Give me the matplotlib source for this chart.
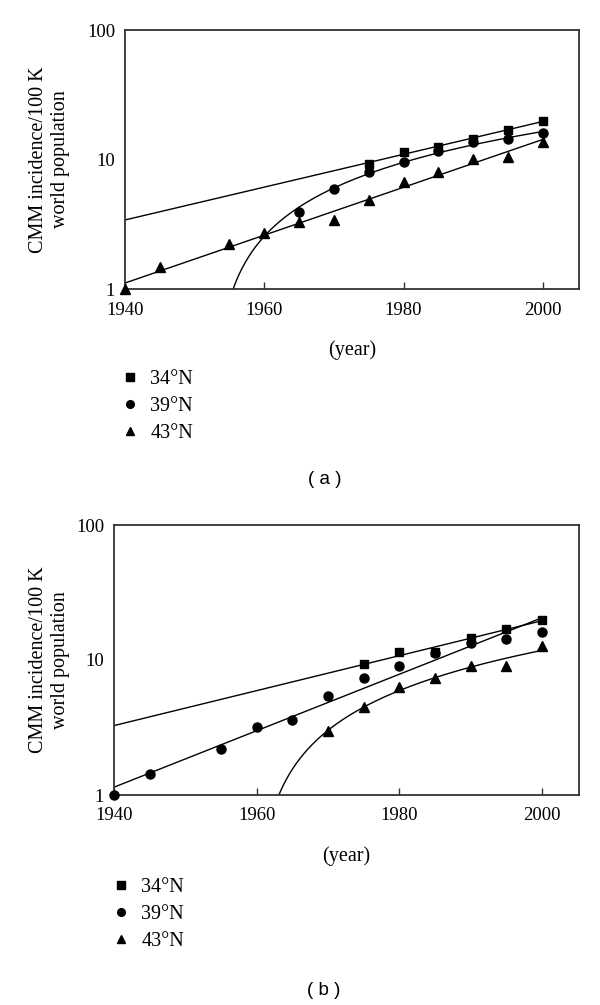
import numpy as np
import matplotlib
matplotlib.use("Agg")
import matplotlib.pyplot as plt
from matplotlib.lines import Line2D
from matplotlib.ticker import FixedLocator, FixedFormatter, NullLocator

# --- DATA ---
LABELS = ["34°N", "39°N", "43°N"]

# panel (a)
YEARS_A_34 = [1975, 1980, 1985, 1990, 1995, 2000]
A_34 = [9.3, 11.5, 12.4, 14.5, 17.0, 19.8]
YEARS_A_39 = [1965, 1970, 1975, 1980, 1985, 1990, 1995, 2000]
A_39 = [3.9, 5.9, 8.0, 9.5, 11.7, 13.7, 14.3, 16.0]
YEARS_A_43 = [1940, 1945, 1955, 1960, 1965, 1970, 1975, 1980, 1985, 1990, 1995, 2000]
A_43 = [1.0, 1.47, 2.22, 2.7, 3.3, 3.4, 4.9, 6.7, 8.0, 10.1, 10.5, 13.7]

# panel (b)
YEARS_B_34 = [1975, 1980, 1985, 1990, 1995, 2000]
B_34 = [9.3, 11.4, 11.5, 14.5, 16.9, 19.9]
YEARS_B_39 = [1940, 1945, 1955, 1960, 1965, 1970, 1975, 1980, 1985, 1990, 1995, 2000]
B_39 = [1.0, 1.42, 2.21, 3.17, 3.59, 5.38, 7.33, 9.0, 11.2, 13.3, 14.4, 16.1]
YEARS_B_43 = [1970, 1975, 1980, 1985, 1990, 1995, 2000]
B_43 = [2.96, 4.46, 6.28, 7.37, 9.0, 9.1, 12.6]

# fit type per series: "exp" = straight on log axis, "lin" = linear regression
FITS_A = ["exp", "lin", "exp"]
FITS_B = ["exp", "exp", "lin"]

X_TICKS = [1940, 1960, 1980, 2000]
Y_TICKS = [1, 10, 100]
Y_TICK_LABELS = ["1", "10", "100"]

# --- STYLE ---
MARKERS = ["s", "o", "^"]
MARKER_SIZES = [6.0, 6.5, 7.0]
SPINE_COLOR = "#333333"
TICK_SIZE = 13.5
TEXT_SIZE = 14.5
X_LIM = (1940, 2005.2)

plt.rcParams["font.family"] = ["Liberation Serif", "DejaVu Serif"]


def fit_curve(years, values, kind, x_end=2000):
    years = np.asarray(years, dtype=float)
    values = np.asarray(values, dtype=float)
    if kind == "exp":
        k, c = np.polyfit(years, np.log10(values), 1)
        xs = np.linspace(1940, x_end, 200)
        return xs, 10 ** (k * xs + c)
    k, c = np.polyfit(years, values, 1)
    x0 = max(1940.0, (1.0 - c) / k)  # where the line leaves the bottom axis
    xs = np.linspace(x0, x_end, 300)
    return xs, k * xs + c


def draw_panel(fig, rect, series, fits, legend_xy, tag, tag_xy):
    ax = fig.add_axes(rect)
    ax.set_yscale("log")
    ax.set_xlim(*X_LIM)
    ax.set_ylim(1, 100)

    for (years, values), kind in zip(series, fits):
        xs, ys = fit_curve(years, values, kind)
        ax.plot(xs, ys, color="black", lw=1.0, zorder=2)

    for (years, values), m, ms in zip(series, MARKERS, MARKER_SIZES):
        ax.plot(years, values, linestyle="none", marker=m, ms=ms,
                color="black", zorder=3, clip_on=False)

    ax.xaxis.set_major_locator(FixedLocator(X_TICKS))
    ax.set_xticklabels([str(t) for t in X_TICKS])
    ax.yaxis.set_major_locator(FixedLocator(Y_TICKS))
    ax.yaxis.set_major_formatter(FixedFormatter(Y_TICK_LABELS))
    ax.yaxis.set_minor_locator(NullLocator())
    ax.tick_params(axis="x", direction="in", length=5, width=1.0,
                   color=SPINE_COLOR, pad=9, labelsize=TICK_SIZE)
    ax.tick_params(axis="y", length=0, pad=7, labelsize=TICK_SIZE)
    for sp in ax.spines.values():
        sp.set_color(SPINE_COLOR)
        sp.set_linewidth(1.3)

    ax.set_ylabel("CMM incidence/100 K\nworld population",
                  fontsize=TEXT_SIZE, linespacing=1.2)
    x_lab = (70 / 600 - rect[0]) / rect[2]
    ax.yaxis.set_label_coords(x_lab, 0.5)
    ax.set_xlabel("(year)", fontsize=TEXT_SIZE, labelpad=16)

    handles = [Line2D([], [], linestyle="none", marker=m, ms=ms * 0.85,
                      color="black") for m, ms in zip(MARKERS, MARKER_SIZES)]
    ax.legend(handles, LABELS, loc="upper left", bbox_to_anchor=legend_xy,
              bbox_transform=fig.transFigure, frameon=False, borderpad=0,
              borderaxespad=0, handlelength=0.9, handletextpad=0.55,
              labelspacing=0.4, fontsize=TEXT_SIZE)

    fig.text(tag_xy[0], tag_xy[1], tag, ha="center", va="center",
             fontsize=TICK_SIZE, family="Liberation Sans")
    return ax


def main():
    fig = plt.figure(figsize=(6.0, 10.05), dpi=100)

    series_a = [(YEARS_A_34, A_34), (YEARS_A_39, A_39), (YEARS_A_43, A_43)]
    series_b = [(YEARS_B_34, B_34), (YEARS_B_39, B_39), (YEARS_B_43, B_43)]

    draw_panel(fig, [125 / 600, 1 - 289 / 1005, 454 / 600, 259 / 1005],
               series_a, FITS_A, (121 / 600, 1 - 370 / 1005),
               "( a )", (325 / 600, 1 - 479 / 1005))
    draw_panel(fig, [114 / 600, 1 - 795 / 1005, 465 / 600, 270 / 1005],
               series_b, FITS_B, (112 / 600, 1 - 878 / 1005),
               "( b )", (324 / 600, 1 - 990 / 1005))

    fig.savefig("out.png", dpi=100, facecolor="white")
    plt.close(fig)


if __name__ == "__main__":
    main()
